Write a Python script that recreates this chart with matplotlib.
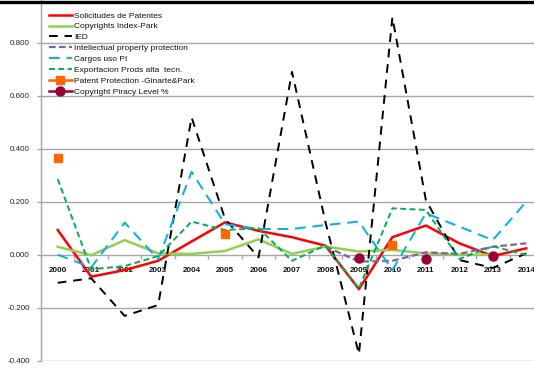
import numpy as np
import matplotlib
matplotlib.use("Agg")
import matplotlib.pyplot as plt
from matplotlib.lines import Line2D
from matplotlib.ticker import FixedLocator, FormatStrFormatter

nan = np.nan
years = [str(y) for y in range(2000, 2015)]

solicitudes = [0.093, -0.083, -0.058, -0.023, 0.050, 0.122, 0.090, 0.066, 0.034,
               -0.130, 0.066, 0.110, 0.043, -0.005, 0.024]
copyrights_idx = [0.030, -0.002, 0.055, 0.005, 0.003, 0.014, 0.058, 0.003, 0.031,
                  0.012, 0.018, 0.005, 0.000, 0.000, nan]
ied = [-0.106, -0.089, -0.231, -0.190, 0.518, 0.135, -0.010, 0.690, 0.123,
       -0.375, 0.896, 0.206, -0.020, -0.050, 0.005]
ip_protection = [nan, nan, nan, nan, nan, nan, nan, nan, 0.031,
                 -0.026, -0.023, 0.009, 0.003, 0.030, 0.043]
cargos_pi = [0.000, -0.048, 0.121, -0.017, 0.313, 0.115, 0.097, 0.097, 0.112,
             0.125, -0.058, 0.156, 0.106, 0.055, 0.200]
export_alta = [0.285, -0.055, -0.043, -0.005, 0.125, 0.093, 0.100, -0.023, 0.035,
               -0.127, 0.175, 0.169, -0.016, 0.032, -0.001]
patent_protection = [0.364, nan, nan, nan, nan, 0.080, nan, nan, nan,
                     nan, 0.037, nan, nan, nan, nan]
piracy_level = [nan, nan, nan, nan, nan, nan, nan, nan, nan,
                -0.014, nan, -0.016, nan, -0.005, nan]

W, H = 534, 369
fig = plt.figure(figsize=(W / 100, H / 100), dpi=100)
fig.patch.set_facecolor("white")

# plot area (extends slightly past the figure edges)
x0, x1 = 41, 543
yb, yt = 360.7, -10.3
ax = fig.add_axes([x0 / W, (H - yb) / H, (x1 - x0) / W, (yb - yt) / H])
ax.set_xlim(-0.5, 14.5)
ax.set_ylim(-0.4, 1.0)

font = ["Liberation Sans", "DejaVu Sans"]
x = np.arange(len(years))

grid_c = "#a6a6a6"
for v in [-0.4, -0.2, 0.2, 0.4, 0.6, 0.8, 1.0]:
    ax.axhline(v, color=grid_c, lw=1.0, zorder=0)

lines = [
    (solicitudes, dict(color="#ff0000", lw=1.8, ls="-"), "Solicitudes de Patentes"),
    (copyrights_idx, dict(color="#92d050", lw=1.8, ls="-"), "Copyrights Index-Park"),
    (ied, dict(color="#000000", lw=1.4, dashes=(4.5, 3.5)), "IED"),
    (ip_protection, dict(color="#8064a2", lw=1.6, dashes=(3, 1.5)), "Intellectual property protection"),
    (cargos_pi, dict(color="#00b0f0", lw=1.4, dashes=(5.5, 3.5)), "Cargos uso PI"),
    (export_alta, dict(color="#00b050", lw=1.4, dashes=(3, 1.8)), "Exportacion Prods alta  tecn."),
]
handles = []
for data, st, lab in lines:
    h, = ax.plot(x, data, label=lab, zorder=3, **st)
    handles.append(h)

h_pp, = ax.plot(x, patent_protection, color="#ff6600", lw=1.8, marker="s", ms=5.5,
                label="Patent Protection -Ginarte&Park", zorder=4)
h_cp, = ax.plot(x, piracy_level, color="#990033", lw=1.8, marker="o", ms=6.5,
                label="Copyright Piracy Level %", zorder=4)
handles += [h_pp, h_cp]

# axes styling
for s in ["top", "right"]:
    ax.spines[s].set_visible(False)
ax.spines["left"].set_color(grid_c)
ax.spines["left"].set_linewidth(1.0)
ax.spines["bottom"].set_position(("data", 0))
ax.spines["bottom"].set_color(grid_c)
ax.spines["bottom"].set_linewidth(1.0)

ax.yaxis.set_major_locator(FixedLocator([-0.4, -0.2, 0.0, 0.2, 0.4, 0.6, 0.8]))
ax.yaxis.set_major_formatter(FormatStrFormatter("%.3f"))
ax.tick_params(axis="y", length=3, width=1, color=grid_c, pad=5, labelsize=5.8,
               labelcolor="#222222")
for t in ax.get_yticklabels():
    t.set_fontfamily(font)

ax.set_xticks(x)
ax.set_xticklabels(years, fontweight="bold", fontsize=5.8, fontfamily=font)
ax.set_xticks(np.arange(-0.5, 14.6, 1.0), minor=True)
ax.tick_params(axis="x", which="major", length=0, pad=9, labelcolor="#111111")
ax.tick_params(axis="x", which="minor", length=3, width=1, color=grid_c, direction="out")

leg = ax.legend(handles=handles, loc="upper left", bbox_to_anchor=(43 / W, 1 - 6 / H),
                bbox_transform=fig.transFigure, frameon=False,
                handlelength=2.8, handletextpad=0.25, labelspacing=0.36,
                borderpad=0.2, prop={"family": font, "size": 6})
for t in leg.get_texts():
    t.set_color("#111111")

# rule across the top edge
fig.add_artist(Line2D([0, 1], [1 - 1.5 / H, 1 - 1.5 / H], color="black", lw=2.4,
                      transform=fig.transFigure))

fig.savefig("out.png", dpi=100)
